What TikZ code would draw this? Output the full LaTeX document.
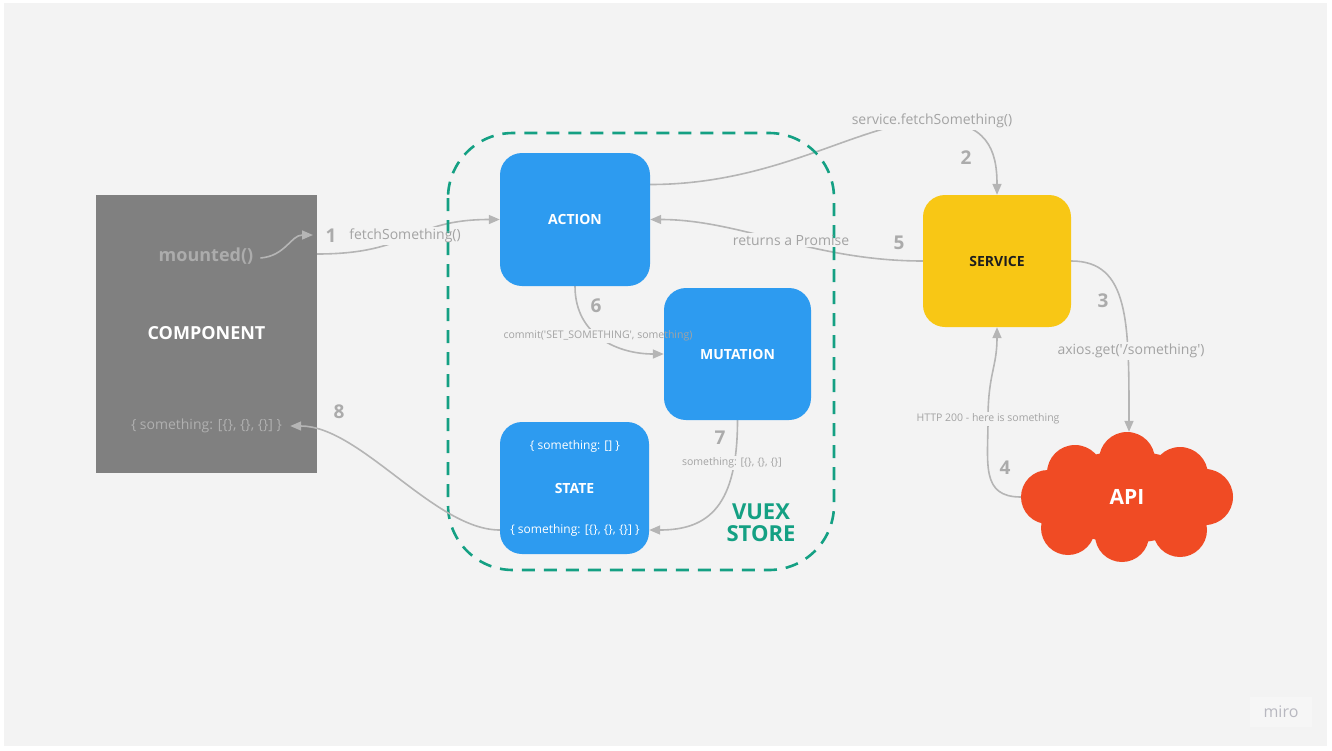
\documentclass[tikz,border=0pt]{standalone}
\usepackage{fontspec}
\setmainfont{Open Sans}[Ligatures=TeXOff]
\usetikzlibrary{arrows.meta}
\definecolor{bgc}{HTML}{F3F3F3}
\definecolor{compc}{HTML}{808080}
\definecolor{bluec}{HTML}{2D9BF0}
\definecolor{yellowc}{HTML}{F8C715}
\definecolor{apic}{HTML}{F04B24}
\definecolor{tealc}{HTML}{14A083}
\definecolor{linec}{HTML}{B5B5B5}
\definecolor{lblc}{HTML}{A3A3A3}
\definecolor{numc}{HTML}{ABABAB}
\definecolor{mountc}{HTML}{ACACAC}
\definecolor{cvalc}{HTML}{B0B0B0}
\definecolor{darkc}{HTML}{1E1E1E}
\definecolor{mirobg}{HTML}{F6F6F6}
\definecolor{miroc}{HTML}{B8B8C0}
\pgfdeclarelayer{back}
\pgfdeclarelayer{mask}
\pgfsetlayers{back,mask,main}
\newcommand{\fsz}[1]{\fontsize{#1}{#1}\selectfont}
\tikzset{
  boxstyle/.style={rounded corners=22pt, minimum width=#1, inner sep=0pt, text=white, font=\fsz{14}\bfseries},
  conn/.style={draw=linec, line width=1.6pt, -{Triangle[length=11pt,width=9pt]}},
  lbl/.style={text=lblc, inner sep=2pt, font=\fsz{14}},
  slbl/.style={text=lblc, inner sep=2pt, font=\fsz{10.5}},
  numlbl/.style={text=numc, inner sep=0pt, font=\fsz{19}\bfseries},
}
\begin{document}
\begin{tikzpicture}[x=1pt,y=-1pt]
\begin{pgfonlayer}{back}
\fill[white] (0,0) rectangle (1332,750);
\fill[bgc] (4,3) rectangle (1327,746);
\end{pgfonlayer}
\useasboundingbox (0,0) rectangle (1332,750);

% VUEX store
\draw[tealc, line width=2.6pt, dash pattern=on 13pt off 9pt, rounded corners=65pt] (448,133) rectangle (834,570);
\node[text=tealc, font=\fsz{22}\bfseries, align=center, inner sep=0pt] (vuex) at (761,523) {\fontsize{22}{29}\selectfont VUEX\\STORE};

% component
\node[fill=compc, minimum width=221pt, minimum height=278pt, inner sep=0pt] (comp) at (206.5,334) {};
\node[text=white, font=\fsz{18}\bfseries, inner sep=0pt] (compname) at (206.5,333) {COMPONENT};
\node[text=mountc, font=\fsz{18}\bfseries, inner sep=0pt] (mounted) at (206,256) {mounted()};
\node[text=cvalc, font=\fsz{14}, inner sep=0pt] (compval) at (206.5,426) {\{ something: [\{\}, \{\}, \{\}] \}};
\coordinate (m1) at (313,235);

% store boxes
\node[boxstyle=150pt, minimum height=133pt, fill=bluec] (action) at (575,219.5) {ACTION};
\node[boxstyle=147pt, minimum height=132pt, fill=bluec] (mutation) at (737.5,354) {MUTATION};
\node[boxstyle=149pt, minimum height=132pt, fill=bluec] (state) at (574.5,488) {STATE};
\node[text=white, font=\fsz{12}, inner sep=0pt] (stateinit) at (575,446) {\{ something: [] \}};
\node[text=white, font=\fsz{12}, inner sep=0pt] (stateval) at (575,530) {\{ something: [\{\}, \{\}, \{\}] \}};

% service
\node[boxstyle=148pt, minimum height=132pt, fill=yellowc, text=darkc] (service) at (997,261) {SERVICE};

% API cloud
\fill[apic] (1127,497) ellipse [x radius=82pt, y radius=46pt];
\foreach \cx/\cy/\r in {1127/460/28, 1075/473/28, 1180/475/28, 1048/497/27, 1205/497/28, 1068/528/27, 1122/535/27, 1180/530/27}
  \fill[apic] (\cx,\cy) circle [radius=\r pt];
\node[minimum width=212pt, minimum height=130pt, inner sep=0pt, text=white, font=\fsz{21}\bfseries] (api) at (1127,497) {API};

% labels and step numbers
\node[lbl] (l1) at (405,236) {fetchSomething()};
\node[numlbl] (n1) at (331,236) {1};
\node[lbl] (l2) at (932,121) {service.fetchSomething()};
\node[numlbl] (n2) at (966,158) {2};
\node[lbl] (l3) at (1131,351) {axios.get('/something')};
\node[numlbl] (n3) at (1103,301) {3};
\node[slbl] (l4) at (988,419) {HTTP 200 - here is something};
\node[numlbl] (n4) at (1005,468) {4};
\node[lbl] (l5) at (791,240) {returns a Promise};
\node[numlbl] (n5) at (899,243) {5};
\node[slbl] (l6) at (598,336) {commit('SET\_SOMETHING', something)};
\node[numlbl] (n6) at (596,306) {6};
\node[slbl] (l7) at (732,463) {something: [\{\}, \{\}, \{\}]};
\node[numlbl] (n7) at (720,438) {7};
\node[numlbl] (n8) at (339,412) {8};

% miro logo
\fill[mirobg] (1250,697) rectangle (1312,727);
\node[text=miroc, font=\fsz{16}, inner sep=0pt] (miro) at (1281,712) {miro};

% connectors that run over the component box
\draw[conn] ([xshift=7pt,yshift=-2pt]mounted.east) .. controls +(25,-2) and +(-22,0) .. (m1);
\draw[conn] ([yshift=-42pt]state.west) .. controls +(-65,0) and +(70,0) .. ([xshift=8pt]compval.east);

% masks behind labels
\begin{pgfonlayer}{mask}
\foreach \n in {l1,l2,l3,l4,l5,l6,l7}
  \fill[bgc] (\n.south west) rectangle (\n.north east);
\end{pgfonlayer}

% connectors under the labels
\begin{pgfonlayer}{back}
\draw[conn] ([yshift=80pt]comp.east) .. controls +(95,0) and +(-90,0) .. (action.west);
\draw[conn] ([yshift=35pt]action.east) .. controls +(130,0) and +(-70,0) .. (l2.center) .. controls +(55,0) and +(0,-45) .. (service.north);
\draw[conn] (service.west) .. controls +(-110,0) and +(90,0) .. (action.east);
\draw[conn] (service.east) .. controls +(58,0) and +(0,-110) .. ([xshift=2pt]api.north);
\draw[conn] (api.west) .. controls +(-40,0) and +(0,45) .. (l4.center) .. controls +(0,-45) and +(0,40) .. (service.south);
\draw[conn] (action.south) .. controls +(0,50) and +(-45,0) .. (mutation.west);
\draw[conn] (mutation.south) .. controls +(0,85) and +(60,0) .. ([yshift=-42pt]state.east);
\end{pgfonlayer}
\end{tikzpicture}
\end{document}
